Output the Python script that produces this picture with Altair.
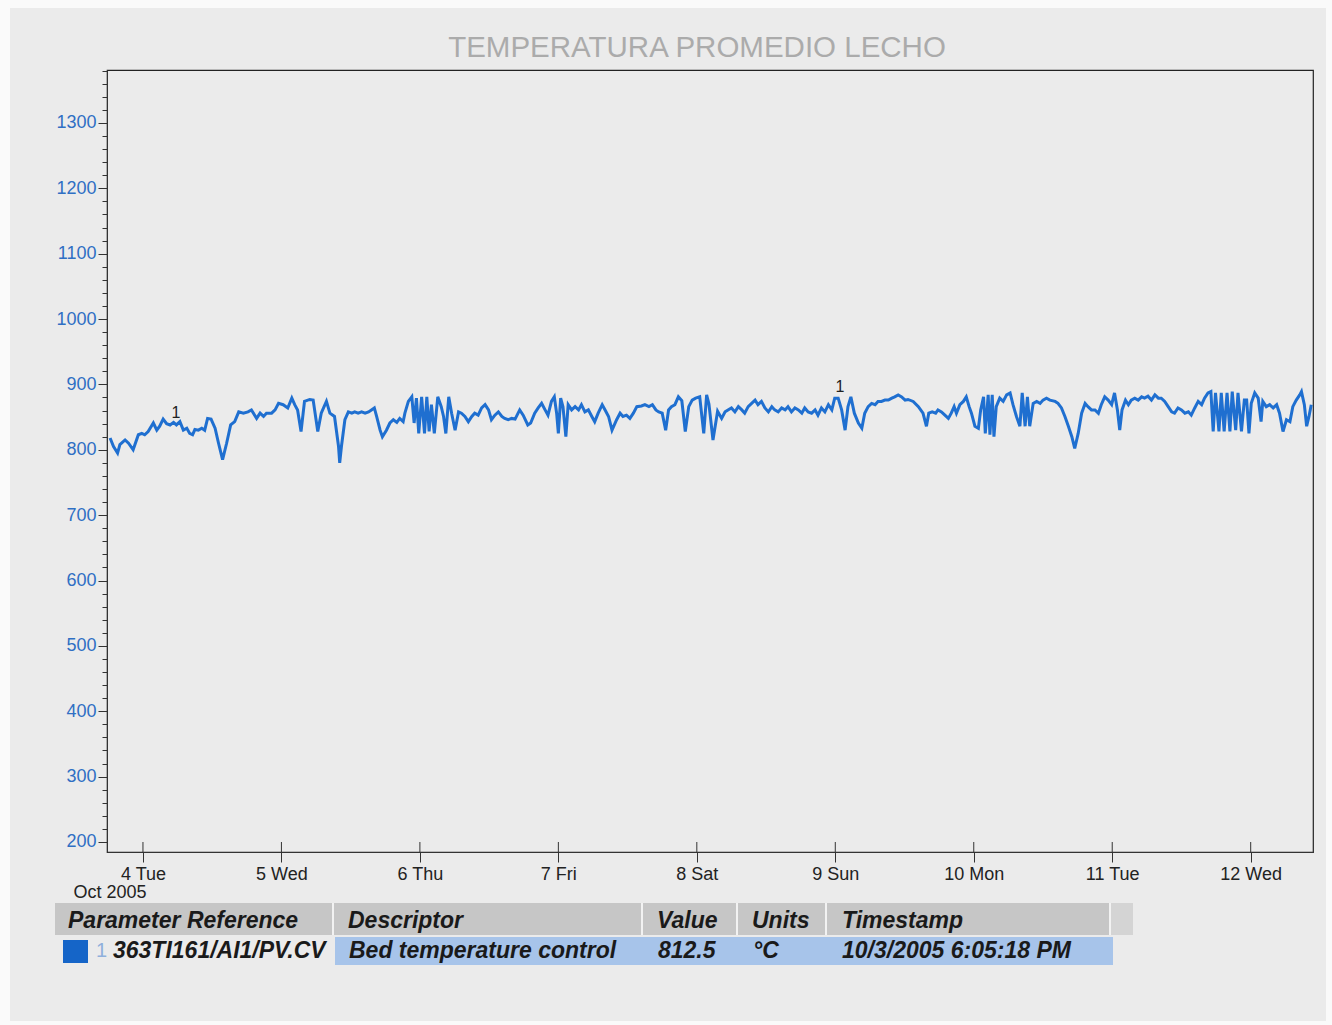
import altair as alt
import pandas as pd

# ---------------- data ----------------
TITLE = "TEMPERATURA PROMEDIO LECHO"
MONTH_LABEL = "Oct 2005"

# hours after 2005-10-04 00:00 and bed temperature (°C) read from the trend
hours = [
    -5.7, -5.1, -4.4, -4.0, -3.1, -2.5, -1.7, -0.8, -0.2, 0.3, 0.9, 1.8, 2.4, 2.9, 3.5, 4.1, 4.7, 5.3, 5.8, 6.4,
    7.0, 7.6, 8.1, 8.6, 9.0, 9.6, 10.2, 10.7, 11.2, 11.8, 12.5, 13.1, 13.8, 14.5, 15.2, 15.9, 16.6, 17.4, 18.2, 18.8,
    19.7, 20.3, 20.9, 21.4, 22.3, 22.9, 23.5, 24.3, 25.1, 25.8, 26.3, 26.8, 27.4, 28.0,
    28.9, 29.5, 30.3, 30.9, 31.3, 31.8, 32.4, 33.2, 33.9, 34.1, 34.4, 35.0, 35.6, 36.2, 36.7, 37.3, 37.9, 38.5, 39.1, 39.6,
    40.1, 40.5, 41.1, 41.5, 42.2, 42.8, 43.4, 44.0, 44.5, 45.1, 45.4, 46.0, 46.6, 47.0, 47.4, 47.8, 48.3, 48.8, 49.2, 49.6,
    50.0, 50.5, 51.1, 51.7, 52.1, 52.5, 53.0, 53.5, 54.1, 54.7, 55.2, 55.8, 56.4, 57.0, 57.5, 58.1, 58.7, 59.3, 59.9, 60.4,
    61.0, 61.6, 62.2,
    62.7, 63.3, 63.9, 64.5, 65.3, 65.9, 66.7, 67.2, 67.9, 68.5, 69.1, 69.7, 70.2, 70.8, 71.3, 71.7, 72.0, 72.4, 72.8, 73.3,
    73.7, 74.3, 74.9, 75.5, 76.0, 76.6, 77.2, 77.8, 78.3, 78.9, 79.6, 80.1, 80.7, 81.3, 82.1, 82.7, 83.2, 83.8, 84.4, 85.0,
    85.6, 86.4, 87.0, 87.7, 88.3, 88.9, 89.4, 90.0, 90.6, 91.1, 91.6, 92.2,
    92.8, 93.4, 94.0, 94.6, 95.2, 95.8, 96.5, 97.2, 97.7, 98.1, 98.8, 99.6,
    100.3, 100.9, 101.4, 102.0, 102.6, 103.2, 103.8, 104.3, 104.9, 105.5, 106.1, 106.6, 107.2, 107.8, 108.4, 109.0, 109.5,
    110.1, 110.7, 111.3, 111.8, 112.4, 113.0, 113.6, 114.2, 114.7, 115.3, 115.9, 116.5, 117.0, 117.6, 118.2, 118.8, 119.4,
    119.9, 120.5, 121.1, 121.7, 122.2, 122.7, 123.3, 124.0, 124.6, 125.1, 125.7, 126.3, 126.9, 127.4, 128.0, 128.6, 129.2,
    129.8, 130.3, 130.9, 131.5,
    132.1, 132.6, 133.5, 134.4, 135.2, 135.8, 136.2, 136.8, 137.4, 137.8, 138.4, 139.0, 139.6, 140.1, 140.6, 141.0, 141.6,
    142.2, 142.7, 143.2, 143.6, 144.2, 144.8, 145.2, 145.7, 146.0, 146.5, 146.8, 147.2, 147.5, 147.9, 148.5, 149.1, 149.7,
    150.3, 150.8, 151.4, 152.0, 152.4, 152.9, 153.3, 153.7, 154.3, 154.9, 155.5, 156.0, 156.6, 157.2, 158.1, 158.6, 159.2,
    159.8, 160.4, 161.0, 161.5, 162.1, 162.7, 163.3, 163.8, 164.4, 165.0, 165.6, 166.1,
    166.7, 167.3, 167.9, 168.4, 168.9, 169.3, 169.7, 170.3, 170.8, 171.3, 171.9, 172.5, 173.1, 173.6, 174.2, 174.8, 175.4,
    176.0, 176.5, 177.1, 177.7, 178.3, 178.8, 179.4, 180.0, 180.6, 181.2, 181.7, 182.3, 182.9, 183.5, 184.0, 184.6, 185.1,
    185.5, 185.9, 186.5, 186.9, 187.4, 187.9, 188.4, 188.8, 189.4, 189.8, 190.4, 190.9, 191.3, 191.7, 192.1, 192.7, 193.3,
    193.8, 194.1, 194.7, 195.3, 195.9, 196.5, 197.0, 197.6, 198.2, 198.8, 199.3, 199.9, 200.5, 200.8, 201.3, 201.7, 202.1,
    202.5,
]
temps = [
    818, 805, 795, 808, 815, 810, 800, 823, 825, 823, 828, 841, 830, 836, 847, 840, 838, 842, 838, 843,
    830, 833, 825, 823, 831, 830, 833, 830, 848, 847, 833, 810, 785, 810, 838, 843, 858, 856, 858, 861,
    848, 856, 851, 856, 856, 861, 871, 869, 864, 879, 869, 861, 828, 874,
    877, 876, 828, 856, 864, 874, 856, 851, 805, 780, 805, 846, 858, 856, 858, 856, 858, 856, 858, 861,
    864, 851, 830, 820, 830, 841, 846, 842, 848, 843, 856, 874, 881, 841, 879, 825, 881, 825, 881, 828,
    869, 825, 881, 866, 851, 825, 881, 856, 830, 858, 856, 851, 843, 851, 856, 853, 864, 869, 861, 846,
    853, 858, 851,
    848, 846, 848, 847, 861, 853, 838, 841, 856, 864, 871, 861, 853, 874, 881, 856, 825, 879, 866, 820,
    869, 861, 866, 861, 869, 858, 861, 851, 843, 856, 869, 861, 851, 830, 846, 856, 851, 853, 848, 856,
    866, 867, 869, 866, 869, 861, 858, 856, 830, 861, 866, 869,
    881, 875, 828, 866, 876, 879, 881, 825, 884, 870, 815, 859,
    848, 858, 861, 864, 858, 866, 861, 856, 866, 871, 876, 869, 874, 864, 858, 866, 861,
    858, 864, 861, 866, 858, 864, 861, 856, 864, 858, 856, 861, 853, 864, 858, 869, 861,
    879, 879, 861, 830, 866, 881, 856, 841, 833, 856, 866, 871, 869, 874, 874, 876, 876,
    879, 881, 884, 881,
    876, 877, 874, 866, 856, 836, 856, 858, 856, 861, 858, 853, 848, 856, 866, 856, 869,
    874, 881, 866, 856, 836, 833, 861, 881, 825, 884, 823, 884, 820, 866, 879, 874, 884,
    887, 869, 851, 836, 887, 836, 881, 836, 871, 874, 871, 876, 879, 876, 874, 871, 864,
    851, 836, 820, 802, 825, 856, 871, 866, 861, 861, 856, 869,
    881, 876, 869, 887, 861, 830, 861, 876, 869, 876, 879, 876, 881, 879, 882, 876, 884,
    879, 879, 874, 866, 858, 856, 864, 861, 856, 858, 853, 864, 874, 869, 879, 887, 889,
    828, 887, 828, 887, 828, 887, 828, 889, 830, 887, 828, 876, 876, 825, 871, 887, 879,
    843, 874, 866, 869, 864, 869, 856, 828, 846, 843, 866, 876, 884, 889, 869, 836, 851,
    869,
]

pen_hours = [5.7, 120.8]
pen_vals = [853, 893]
pen_text = ["1", "1"]

day_ticks = list(range(4, 13))
table_headers = ["Parameter Reference", "Descriptor", "Value", "Units", "Timestamp"]
row_index = "1"
row_values = ["363TI161/AI1/PV.CV", "Bed temperature control", "812.5", "°C", "10/3/2005 6:05:18 PM"]

# ---------------- layout ----------------
OX, OY = 107, 70           # plot origin on the page
W, H = 1206, 782
FONT = "Liberation Sans"
LINE_BLUE = "#1f6fd0"
LABEL_BLUE = "#2f6fc4"
PAPER = "#ebebeb"

base = pd.Timestamp("2005-10-04 00:00:00")
df = pd.DataFrame({"t": base + pd.to_timedelta(hours, unit="h"), "v": temps})
pens = pd.DataFrame({"t": base + pd.to_timedelta(pen_hours, unit="h"), "v": pen_vals, "s": pen_text})
days = pd.DataFrame({"t": [pd.Timestamp(2005, 10, d) for d in day_ticks]})

x_scale = alt.Scale(domain=[alt.DateTime(year=2005, month=10, date=3, hours=17, minutes=46),
                            alt.DateTime(year=2005, month=10, date=12, hours=10, minutes=48)])
y_scale = alt.Scale(domain=[184.7, 1381], nice=False, zero=False)

x_axis = alt.Axis(
    values=[alt.DateTime(year=2005, month=10, date=d) for d in day_ticks],
    format="%-d %a", labelFontSize=18, labelFont=FONT, labelColor="#222",
    tickSize=10, tickColor="#333", domainColor="#333", labelPadding=3,
    grid=False, labelOverlap=False,
    title=MONTH_LABEL, titleX=-34, titleY=40, titleAlign="left", titleBaseline="middle",
    titleFontSize=18, titleFontWeight="normal", titleFont=FONT, titleColor="#222",
)
y_axis = alt.Axis(
    values=list(range(200, 1381, 20)),
    labelExpr="datum.value % 100 === 0 && datum.value <= 1300 ? datum.label : ''",
    format="d",
    tickSize={"condition": {"test": "datum.value % 100 === 0", "value": 9}, "value": 5},
    tickColor="#333", domainColor="#333", labelColor=LABEL_BLUE, labelFontSize=18, labelFont=FONT,
    labelPadding=2, grid=False, labelOverlap=False, title=None,
)

X = alt.X("t:T", scale=x_scale, axis=x_axis)
Y = alt.Y("v:Q", scale=y_scale, axis=y_axis)

line = alt.Chart(df).mark_line(color=LINE_BLUE, strokeWidth=3).encode(x=X, y=Y)
pen_lbl = alt.Chart(pens).mark_text(fontSize=16, font=FONT, color="#222", dy=-2).encode(x=X, y=Y, text="s:N")
inner_ticks = alt.Chart(days).mark_rule(color="#333", strokeWidth=1).encode(
    x=X, y=alt.value(H - 10), y2=alt.value(H))

one = pd.DataFrame({"k": [0]})


def rect(x0, x1, y0, y1, color):
    return alt.Chart(one).mark_rect(color=color).encode(
        x=alt.value(x0 - OX), x2=alt.value(x1 - OX), y=alt.value(y0 - OY), y2=alt.value(y1 - OY))


def vrule(x, y0, y1, color, w):
    return alt.Chart(one).mark_rule(color=color, strokeWidth=w).encode(
        x=alt.value(x - OX), y=alt.value(y0 - OY), y2=alt.value(y1 - OY))


def text(s, x, y, color="#1a1a1a", size=23, bold=True, italic=True, align="left"):
    return alt.Chart(pd.DataFrame({"s": [s]})).mark_text(
        align=align, baseline="middle", font=FONT, fontSize=size,
        fontWeight="bold" if bold else "normal", fontStyle="italic" if italic else "normal",
        color=color).encode(x=alt.value(x - OX), y=alt.value(y - OY), text="s:N")


# scan edges (white margin around the grey paper)
edges = [rect(0, 1332, 0, 8, "#fafafa"), rect(0, 10, 0, 1025, "#fafafa"),
         rect(1326, 1332, 0, 1025, "#fafafa"), rect(0, 1332, 1021, 1025, "#fafafa")]

title = text(TITLE, 697, 48, color="#ababab", size=29.5, bold=False, italic=False, align="center")

col_text_x = [68, 348, 657, 752, 842]
col_bounds = [333, 642, 737, 826, 1110]
table = [rect(55, 1133, 903, 935, "#c6c6c6"), rect(1110, 1133, 903, 935, "#d4d4d4"),
         rect(335, 1113, 937, 965, "#a7c4ea"), rect(63, 88, 940, 963, "#1565c8")]
table += [vrule(b, 903, 935, "#f2f2f2", 2) for b in col_bounds]
table += [text(h, x, 921) for h, x in zip(table_headers, col_text_x)]
table += [text(row_index, 96, 951, color="#8fb0dc", size=20, bold=False, italic=False)]
row_x = [113, 349, 658, 753, 842]
table += [text(v, x, 951) for v, x in zip(row_values, row_x)]

chart = alt.layer(*edges, title, *table, inner_ticks, line, pen_lbl).properties(
    width=W, height=H,
    background=PAPER,
    padding={"left": OX, "top": OY, "right": 1332 - OX - W, "bottom": 1025 - OY - H},
    autosize=alt.AutoSizeParams(type="none"),
).configure_view(stroke="#222", strokeWidth=1.2)

chart.save("out.html", embed_options={"renderer": "svg", "actions": False})
